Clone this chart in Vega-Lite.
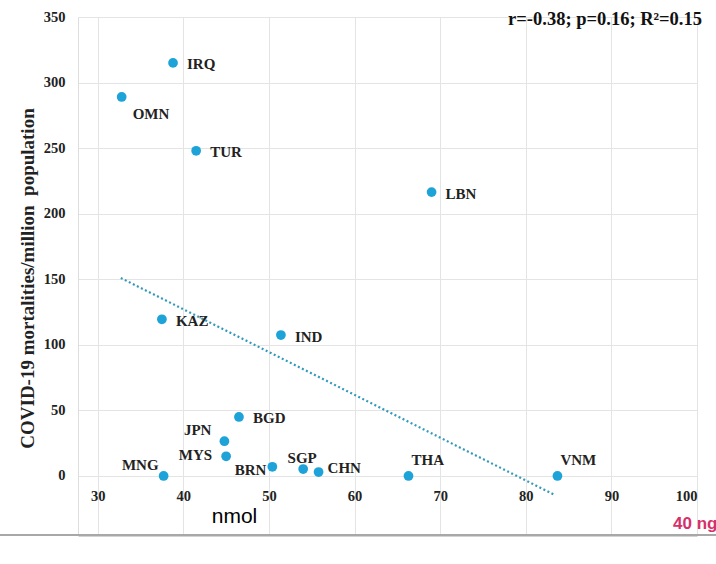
{
  "$schema": "https://vega.github.io/schema/vega-lite/v6.json",
  "width": 619,
  "height": 518,
  "autosize": "none",
  "padding": {"left": 78, "top": 17, "right": 19, "bottom": 29},
  "background": "white",
  "config": {"view": {"stroke": null}, "font": "Liberation Serif"},
  "datasets": {
    "countries": [
      {"country": "IRQ", "vitd": 38.8, "mort": 315},
      {"country": "OMN", "vitd": 32.8, "mort": 289},
      {"country": "TUR", "vitd": 41.5, "mort": 248},
      {"country": "LBN", "vitd": 69.0, "mort": 216.5},
      {"country": "KAZ", "vitd": 37.5, "mort": 119.5},
      {"country": "IND", "vitd": 51.4, "mort": 107.5},
      {"country": "BGD", "vitd": 46.5, "mort": 45},
      {"country": "JPN", "vitd": 44.8, "mort": 26.5},
      {"country": "MYS", "vitd": 45.0, "mort": 15},
      {"country": "MNG", "vitd": 37.7, "mort": 0},
      {"country": "BRN", "vitd": 50.4, "mort": 7},
      {"country": "SGP", "vitd": 54.0, "mort": 5.3},
      {"country": "CHN", "vitd": 55.8, "mort": 3},
      {"country": "THA", "vitd": 66.3, "mort": 0},
      {"country": "VNM", "vitd": 83.7, "mort": 0}
    ],
    "trend": [
      {"vitd": 32.7, "mort": 151},
      {"vitd": 83.4, "mort": -14.5}
    ],
    "stats": [
      {"note": "r=-0.38; p=0.16; R²=0.15", "vitd": 100, "mort": 350}
    ],
    "unit": [
      {"note": "40 ng", "vitd": 100, "mort": -45}
    ],
    "baseline": [
      {"vitd": 18.5, "vitd2": 102.3, "mort": -45}
    ]
  },
  "encoding": {
    "x": {
      "field": "vitd", "type": "quantitative", "title": "nmol",
      "scale": {"domain": [27.7, 100], "zero": false, "nice": false},
      "axis": {
        "values": [30, 40, 50, 60, 70, 80, 90, 100],
        "grid": true, "gridColor": "#e4e4e4", "gridWidth": 1,
        "ticks": false, "domain": true, "domainColor": "#a8a8a8", "domainWidth": 2,
        "labelFont": "Liberation Serif", "labelFontWeight": "bold", "labelFontSize": 14.5, "labelColor": "#222222",
        "labelPadding": -46, "labelBaseline": "top",
        "titleFont": "Liberation Sans", "titleFontWeight": "normal", "titleFontSize": 21, "titleColor": "#000000",
        "titleX": 156, "titleY": -13, "titleAlign": "center", "titleBaseline": "alphabetic"
      }
    },
    "y": {
      "field": "mort", "type": "quantitative", "title": "COVID-19 mortalities/million\u00a0 population",
      "scale": {"domain": [-45, 350], "zero": false, "nice": false},
      "axis": {
        "values": [0, 50, 100, 150, 200, 250, 300, 350],
        "grid": true, "gridColor": "#e4e4e4", "gridWidth": 1,
        "ticks": false, "domain": true, "domainColor": "#dddddd", "domainWidth": 1,
        "labelFont": "Liberation Serif", "labelFontWeight": "bold", "labelFontSize": 14.5, "labelColor": "#222222",
        "labelPadding": 13,
        "titleFont": "Liberation Serif", "titleFontWeight": "bold", "titleFontSize": 19, "titleColor": "#222222",
        "titleAngle": -90, "titleX": -51, "titleY": 261, "titleAlign": "center", "titleBaseline": "middle"
      }
    }
  },
  "layer": [
    {
      "data": {"name": "baseline"},
      "mark": {"type": "rule", "color": "#a8a8a8", "strokeWidth": 2},
      "encoding": {"x2": {"field": "vitd2"}}
    },
    {
      "data": {"name": "trend"},
      "mark": {"type": "line", "color": "#3399bb", "strokeWidth": 2.2, "strokeDash": [2, 2.5]}
    },
    {
      "data": {"name": "countries"},
      "mark": {"type": "point", "filled": true, "color": "#1ea3d8", "size": 95, "opacity": 1}
    },
    {
      "data": {"name": "countries"},
      "transform": [{"filter": {"field": "country", "oneOf": ["IRQ", "TUR", "LBN", "KAZ", "IND", "BGD"]}}],
      "mark": {"type": "text", "align": "left", "baseline": "middle", "dx": 14, "dy": 1.5, "font": "Liberation Serif", "fontWeight": "bold", "fontSize": 15, "color": "#222222"},
      "encoding": {"text": {"field": "country"}}
    },
    {
      "data": {"name": "countries"},
      "transform": [{"filter": {"field": "country", "equal": "OMN"}}],
      "mark": {"type": "text", "align": "left", "baseline": "middle", "dx": 11, "dy": 17, "font": "Liberation Serif", "fontWeight": "bold", "fontSize": 15, "color": "#222222"},
      "encoding": {"text": {"field": "country"}}
    },
    {
      "data": {"name": "countries"},
      "transform": [{"filter": {"field": "country", "equal": "JPN"}}],
      "mark": {"type": "text", "align": "right", "baseline": "middle", "dx": -13, "dy": -11, "font": "Liberation Serif", "fontWeight": "bold", "fontSize": 15, "color": "#222222"},
      "encoding": {"text": {"field": "country"}}
    },
    {
      "data": {"name": "countries"},
      "transform": [{"filter": {"field": "country", "equal": "MYS"}}],
      "mark": {"type": "text", "align": "right", "baseline": "middle", "dx": -14, "dy": -1, "font": "Liberation Serif", "fontWeight": "bold", "fontSize": 15, "color": "#222222"},
      "encoding": {"text": {"field": "country"}}
    },
    {
      "data": {"name": "countries"},
      "transform": [{"filter": {"field": "country", "equal": "MNG"}}],
      "mark": {"type": "text", "align": "right", "baseline": "middle", "dx": -5, "dy": -11, "font": "Liberation Serif", "fontWeight": "bold", "fontSize": 15, "color": "#222222"},
      "encoding": {"text": {"field": "country"}}
    },
    {
      "data": {"name": "countries"},
      "transform": [{"filter": {"field": "country", "equal": "BRN"}}],
      "mark": {"type": "text", "align": "right", "baseline": "middle", "dx": -6, "dy": 3, "font": "Liberation Serif", "fontWeight": "bold", "fontSize": 15, "color": "#222222"},
      "encoding": {"text": {"field": "country"}}
    },
    {
      "data": {"name": "countries"},
      "transform": [{"filter": {"field": "country", "equal": "SGP"}}],
      "mark": {"type": "text", "align": "center", "baseline": "middle", "dx": -1, "dy": -11, "font": "Liberation Serif", "fontWeight": "bold", "fontSize": 15, "color": "#222222"},
      "encoding": {"text": {"field": "country"}}
    },
    {
      "data": {"name": "countries"},
      "transform": [{"filter": {"field": "country", "equal": "CHN"}}],
      "mark": {"type": "text", "align": "left", "baseline": "middle", "dx": 9, "dy": -4, "font": "Liberation Serif", "fontWeight": "bold", "fontSize": 15, "color": "#222222"},
      "encoding": {"text": {"field": "country"}}
    },
    {
      "data": {"name": "countries"},
      "transform": [{"filter": {"field": "country", "oneOf": ["THA", "VNM"]}}],
      "mark": {"type": "text", "align": "left", "baseline": "middle", "dx": 3, "dy": -16, "font": "Liberation Serif", "fontWeight": "bold", "fontSize": 15, "color": "#222222"},
      "encoding": {"text": {"field": "country"}}
    },
    {
      "data": {"name": "stats"},
      "mark": {"type": "text", "align": "right", "baseline": "alphabetic", "dx": 5, "dy": 8, "font": "Liberation Serif", "fontWeight": "bold", "fontSize": 18.5, "color": "#111111"},
      "encoding": {"text": {"field": "note"}}
    },
    {
      "data": {"name": "unit"},
      "mark": {"type": "text", "align": "left", "baseline": "alphabetic", "dx": -24, "dy": -6, "font": "Liberation Sans", "fontWeight": "bold", "fontSize": 17, "color": "#d6306b"},
      "encoding": {"text": {"field": "note"}}
    }
  ]
}
